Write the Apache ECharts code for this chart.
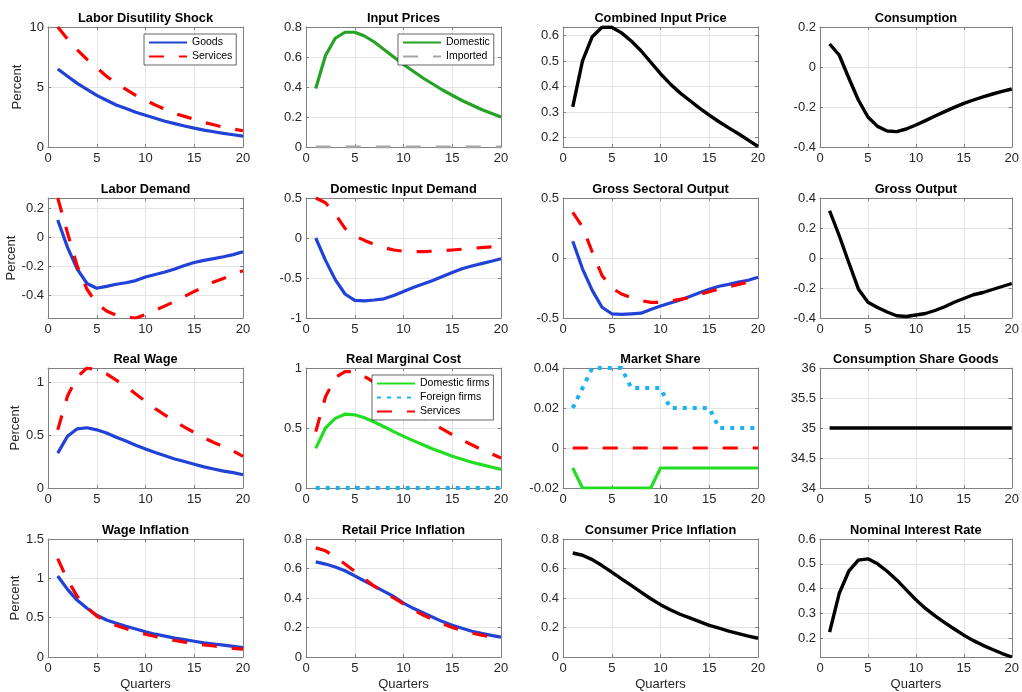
<!DOCTYPE html>
<html>
<head>
<meta charset="utf-8">
<script src="https://cdn.jsdelivr.net/npm/echarts@6/dist/echarts.min.js"></script>
<style>
html,body{margin:0;padding:0;background:#ffffff;}
#chart{width:1022px;height:692px;}
</style>
</head>
<body>
<div id="chart"></div>
<script>
// ---------------- data ----------------
const quarters = [1,2,3,4,5,6,7,8,9,10,11,12,13,14,15,16,17,18,19,20];

const laborShockGoods    = [6.5,5.9,5.3,4.8,4.3,3.9,3.5,3.2,2.9,2.65,2.4,2.15,1.95,1.75,1.57,1.41,1.27,1.14,1.02,0.9];
const laborShockServices = [10,9.0,8.1,7.3,6.6,5.9,5.3,4.8,4.3,3.9,3.5,3.15,2.8,2.55,2.3,2.05,1.85,1.65,1.5,1.35];

const inputPricesDomestic = [0.39,0.61,0.725,0.765,0.765,0.74,0.70,0.65,0.60,0.55,0.505,0.46,0.42,0.38,0.345,0.31,0.28,0.25,0.225,0.20];
const inputPricesImported = [0,0,0,0,0,0,0,0,0,0,0,0,0,0,0,0,0,0,0,0];

const combinedInputPrice = [0.32,0.50,0.595,0.632,0.632,0.61,0.578,0.54,0.495,0.45,0.41,0.375,0.345,0.315,0.288,0.262,0.238,0.215,0.19,0.165];

const consumption = [0.115,0.06,-0.055,-0.165,-0.25,-0.297,-0.32,-0.323,-0.31,-0.29,-0.268,-0.245,-0.223,-0.202,-0.182,-0.165,-0.149,-0.135,-0.122,-0.11];

const laborDemandGoods    = [0.12,-0.07,-0.22,-0.32,-0.353,-0.34,-0.325,-0.315,-0.3,-0.275,-0.258,-0.24,-0.22,-0.195,-0.175,-0.16,-0.148,-0.135,-0.12,-0.1];
const laborDemandServices = [0.272,0.03,-0.2,-0.36,-0.46,-0.51,-0.54,-0.555,-0.559,-0.535,-0.505,-0.475,-0.445,-0.41,-0.375,-0.345,-0.31,-0.285,-0.255,-0.232];

const domesticInputGoods    = [0.0,-0.28,-0.52,-0.7,-0.78,-0.785,-0.775,-0.76,-0.72,-0.67,-0.62,-0.575,-0.53,-0.48,-0.43,-0.385,-0.35,-0.32,-0.29,-0.26];
const domesticInputServices = [0.5,0.44,0.3,0.12,0.025,-0.03,-0.08,-0.12,-0.15,-0.165,-0.17,-0.17,-0.165,-0.16,-0.15,-0.14,-0.13,-0.12,-0.11,-0.1];

const grossSectoralGoods    = [0.14,-0.09,-0.27,-0.41,-0.465,-0.47,-0.465,-0.46,-0.43,-0.4,-0.375,-0.35,-0.32,-0.29,-0.26,-0.235,-0.22,-0.2,-0.185,-0.16];
const grossSectoralServices = [0.38,0.26,0.05,-0.145,-0.25,-0.3,-0.33,-0.355,-0.37,-0.37,-0.36,-0.345,-0.33,-0.305,-0.28,-0.26,-0.24,-0.22,-0.2,-0.18];

const grossOutput = [0.315,0.15,-0.03,-0.206,-0.295,-0.33,-0.36,-0.385,-0.39,-0.38,-0.37,-0.35,-0.325,-0.295,-0.27,-0.245,-0.23,-0.21,-0.19,-0.17];

const realWageGoods    = [0.33,0.49,0.56,0.57,0.55,0.52,0.48,0.445,0.405,0.37,0.335,0.305,0.275,0.25,0.225,0.2,0.18,0.16,0.145,0.125];
const realWageServices = [0.55,0.87,1.05,1.135,1.12,1.08,1.02,0.96,0.89,0.82,0.75,0.69,0.63,0.575,0.525,0.475,0.43,0.39,0.35,0.3];

const realMCDomestic = [0.33,0.5,0.58,0.615,0.61,0.585,0.55,0.51,0.47,0.43,0.395,0.36,0.325,0.295,0.265,0.24,0.215,0.195,0.175,0.155];
const realMCForeign  = [0,0,0,0,0,0,0,0,0,0,0,0,0,0,0,0,0,0,0,0];
const realMCServices = [0.47,0.76,0.92,0.97,0.97,0.93,0.88,0.82,0.76,0.7,0.645,0.59,0.54,0.49,0.445,0.4,0.36,0.32,0.285,0.25];

const marketShareDomestic = [-0.01,-0.02,-0.02,-0.02,-0.02,-0.02,-0.02,-0.02,-0.02,-0.01,-0.01,-0.01,-0.01,-0.01,-0.01,-0.01,-0.01,-0.01,-0.01,-0.01];
const marketShareForeign  = [0.02,0.03,0.04,0.04,0.04,0.04,0.03,0.03,0.03,0.03,0.02,0.02,0.02,0.02,0.02,0.01,0.01,0.01,0.01,0.01];
const marketShareServices = [0,0,0,0,0,0,0,0,0,0,0,0,0,0,0,0,0,0,0,0];

const consumptionShareGoods = [35,35,35,35,35,35,35,35,35,35,35,35,35,35,35,35,35,35,35,35];

const wageInflGoods    = [1.03,0.86,0.72,0.62,0.53,0.47,0.43,0.39,0.355,0.32,0.29,0.265,0.24,0.22,0.2,0.18,0.165,0.15,0.135,0.12];
const wageInflServices = [1.25,0.98,0.77,0.63,0.52,0.45,0.4,0.36,0.32,0.29,0.26,0.23,0.21,0.19,0.17,0.155,0.14,0.125,0.11,0.1];

const retailInflGoods    = [0.645,0.63,0.61,0.585,0.55,0.515,0.48,0.445,0.41,0.365,0.33,0.3,0.27,0.24,0.215,0.195,0.175,0.16,0.147,0.135];
const retailInflServices = [0.74,0.72,0.68,0.63,0.58,0.53,0.48,0.44,0.4,0.36,0.32,0.285,0.255,0.225,0.2,0.18,0.162,0.148,0.135,0.122];

const consumerInfl = [0.705,0.69,0.66,0.62,0.575,0.53,0.485,0.44,0.395,0.355,0.32,0.29,0.265,0.24,0.215,0.195,0.175,0.158,0.142,0.127];

const nominalRate = [0.224,0.38,0.47,0.515,0.52,0.5,0.47,0.435,0.395,0.355,0.32,0.29,0.263,0.237,0.212,0.19,0.171,0.154,0.138,0.124];

// tick labels
const xTickStep = 5;
const ticksCombined = [0.2,0.3,0.4,0.5,0.6];
const ticksLaborDemand = [-0.4,-0.2,0,0.2];
const ticksRealWage = [0,0.5,1];
const ticksNominal = [0.2,0.3,0.4,0.5,0.6];

// ---------------- styles ----------------
const FONT = '"Liberation Sans", Arial, Helvetica, sans-serif';
const AXC = '#808080';
const GRIDC = '#e4e4e4';
const LABC = '#262626';
const STY = {
  blue:  {color:'#2142d6', width:3.2, type:'solid'},
  red:   {color:'#ff0000', width:3.2, type:[15,15]},
  green: {color:'#26a226', width:3.2, type:'solid'},
  gray:  {color:'#a5a5a5', width:3.2, type:[15,15]},
  lime:  {color:'#22dd22', width:3.2, type:'solid'},
  sky:   {color:'#1ab2f0', width:4, type:[4,6]},
  black: {color:'#000000', width:3.4, type:'solid'}
};

const panels = [
  {title:'Labor Disutility Shock', y:[0,10], step:5, lines:[['Goods',laborShockGoods,'blue'],['Services',laborShockServices,'red']], legend:{left:144, top:34}},
  {title:'Input Prices', y:[0,0.8], step:0.2, lines:[['Domestic',inputPricesDomestic,'green'],['Imported',inputPricesImported,'gray']], legend:{left:398, top:34}},
  {title:'Combined Input Price', y:[0.163,0.633], ticks:ticksCombined, split:5, lines:[['cip',combinedInputPrice,'black']]},
  {title:'Consumption', y:[-0.4,0.2], step:0.2, lines:[['cons',consumption,'black']]},
  {title:'Labor Demand', y:[-0.559,0.272], ticks:ticksLaborDemand, split:4, lines:[['ldg',laborDemandGoods,'blue'],['lds',laborDemandServices,'red']]},
  {title:'Domestic Input Demand', y:[-1,0.5], step:0.5, lines:[['didg',domesticInputGoods,'blue'],['dids',domesticInputServices,'red']]},
  {title:'Gross Sectoral Output', y:[-0.5,0.5], step:0.5, lines:[['gsog',grossSectoralGoods,'blue'],['gsos',grossSectoralServices,'red']]},
  {title:'Gross Output', y:[-0.4,0.4], step:0.2, lines:[['go',grossOutput,'black']]},
  {title:'Real Wage', y:[0,1.135], ticks:ticksRealWage, split:2, lines:[['rwg',realWageGoods,'blue'],['rws',realWageServices,'red']]},
  {title:'Real Marginal Cost', y:[0,1], step:0.5, lines:[['Domestic firms',realMCDomestic,'lime'],['Foreign firms',realMCForeign,'sky'],['Services',realMCServices,'red']], legend:{left:372, top:375}},
  {title:'Market Share', y:[-0.02,0.04], step:0.02, lines:[['msd',marketShareDomestic,'lime'],['msf',marketShareForeign,'sky'],['mss',marketShareServices,'red']]},
  {title:'Consumption Share Goods', y:[34,36], step:0.5, lines:[['csg',consumptionShareGoods,'black']]},
  {title:'Wage Inflation', y:[0,1.5], step:0.5, lines:[['wig',wageInflGoods,'blue'],['wis',wageInflServices,'red']]},
  {title:'Retail Price Inflation', y:[0,0.8], step:0.2, lines:[['rpig',retailInflGoods,'blue'],['rpis',retailInflServices,'red']]},
  {title:'Consumer Price Inflation', y:[0,0.8], step:0.2, lines:[['cpi',consumerInfl,'black']]},
  {title:'Nominal Interest Rate', y:[0.124,0.6], ticks:ticksNominal, split:5, lines:[['nir',nominalRate,'black']]}
];

// ---------------- layout ----------------
const colLeft = [48, 306, 563, 820];
const rowTop = [27, 198, 368, 539];
const PW = 195, PH = 120;

const grids = [], xAxes = [], yAxes = [], series = [], legends = [];

panels.forEach((p, i) => {
  const r = Math.floor(i / 4), c = i % 4;
  grids.push({left: colLeft[c], top: rowTop[r], width: PW, height: PH, containLabel: false, show: false});
  const tickCommon = {show:true, inside:true, length:3, lineStyle:{color:AXC, width:1}};
  const lineCommon = {show:true, onZero:false, lineStyle:{color:AXC, width:1}};
  // bottom x
  xAxes.push({
    gridIndex:i, type:'value', position:'bottom', min:0, max:20, interval:xTickStep,
    axisLine:lineCommon, axisTick:tickCommon,
    axisLabel:{show:true, color:LABC, fontSize:13, fontFamily:FONT, margin:5},
    splitLine:{show:true, lineStyle:{color:GRIDC, width:1}},
    name: r === 3 ? 'Quarters' : '', nameLocation:'middle', nameGap:21,
    nameTextStyle:{color:LABC, fontSize:13, fontFamily:FONT}
  });
  // top x (title holder)
  xAxes.push({
    gridIndex:i, type:'value', position:'top', min:0, max:20, interval:xTickStep,
    axisLine:lineCommon, axisTick:tickCommon,
    axisLabel:{show:false}, splitLine:{show:false},
    name:p.title, nameLocation:'middle', nameGap:2,
    nameTextStyle:{color:'#000', fontSize:12.8, fontWeight:'bold', fontFamily:FONT}
  });
  const yBase = {gridIndex:i, type:'value', min:p.y[0], max:p.y[1]};
  if (p.ticks) { yBase.splitNumber = p.split; } else { yBase.interval = p.step; }
  const yl = Object.assign({}, yBase, {
    position:'left',
    axisLine:lineCommon,
    axisTick: p.ticks ? Object.assign({}, tickCommon, {customValues:p.ticks}) : tickCommon,
    axisLabel: Object.assign({show:true, color:LABC, fontSize:13, fontFamily:FONT, margin:4}, p.ticks ? {customValues:p.ticks} : {}),
    splitLine:{show:true, lineStyle:{color:GRIDC, width:1}},
    name: c === 0 ? 'Percent' : '', nameLocation:'middle', nameGap:24,
    nameTextStyle:{color:LABC, fontSize:13, fontFamily:FONT}
  });
  const yr = Object.assign({}, yBase, {
    position:'right',
    axisLine:lineCommon,
    axisTick: p.ticks ? Object.assign({}, tickCommon, {customValues:p.ticks}) : tickCommon,
    axisLabel:{show:false}, splitLine:{show:false}
  });
  yAxes.push(yl, yr);
  p.lines.forEach(([name, arr, sty]) => {
    series.push({
      type:'line', name:name, xAxisIndex:2*i, yAxisIndex:2*i,
      data: quarters.map((q, k) => [q, arr[k]]),
      symbol:'none', showSymbol:false, smooth:false,
      color: STY[sty].color,
      lineStyle: Object.assign({cap:'butt', join:'round'}, STY[sty]),
      silent:true, animation:false, clip:true
    });
  });
  if (p.legend) {
    legends.push({
      show:true, orient:'vertical', left:p.legend.left, top:p.legend.top,
      data:p.lines.map(l => l[0]), selectedMode:false,
      backgroundColor:'#ffffff', borderColor:'#262626', borderWidth:0.7, borderRadius:0,
      padding:[3,4,3,4], itemGap:3, itemWidth:38, itemHeight:10,
      itemStyle:{opacity:0},
      textStyle:{fontSize:10.5, color:'#000', fontFamily:FONT}
    });
  }
});

const chart = echarts.init(document.getElementById('chart'), null, {renderer:'canvas'});
chart.setOption({
  backgroundColor:'#ffffff',
  animation:false,
  textStyle:{fontFamily:FONT},
  grid:grids, xAxis:xAxes, yAxis:yAxes, series:series, legend:legends
});
</script>
</body>
</html>
